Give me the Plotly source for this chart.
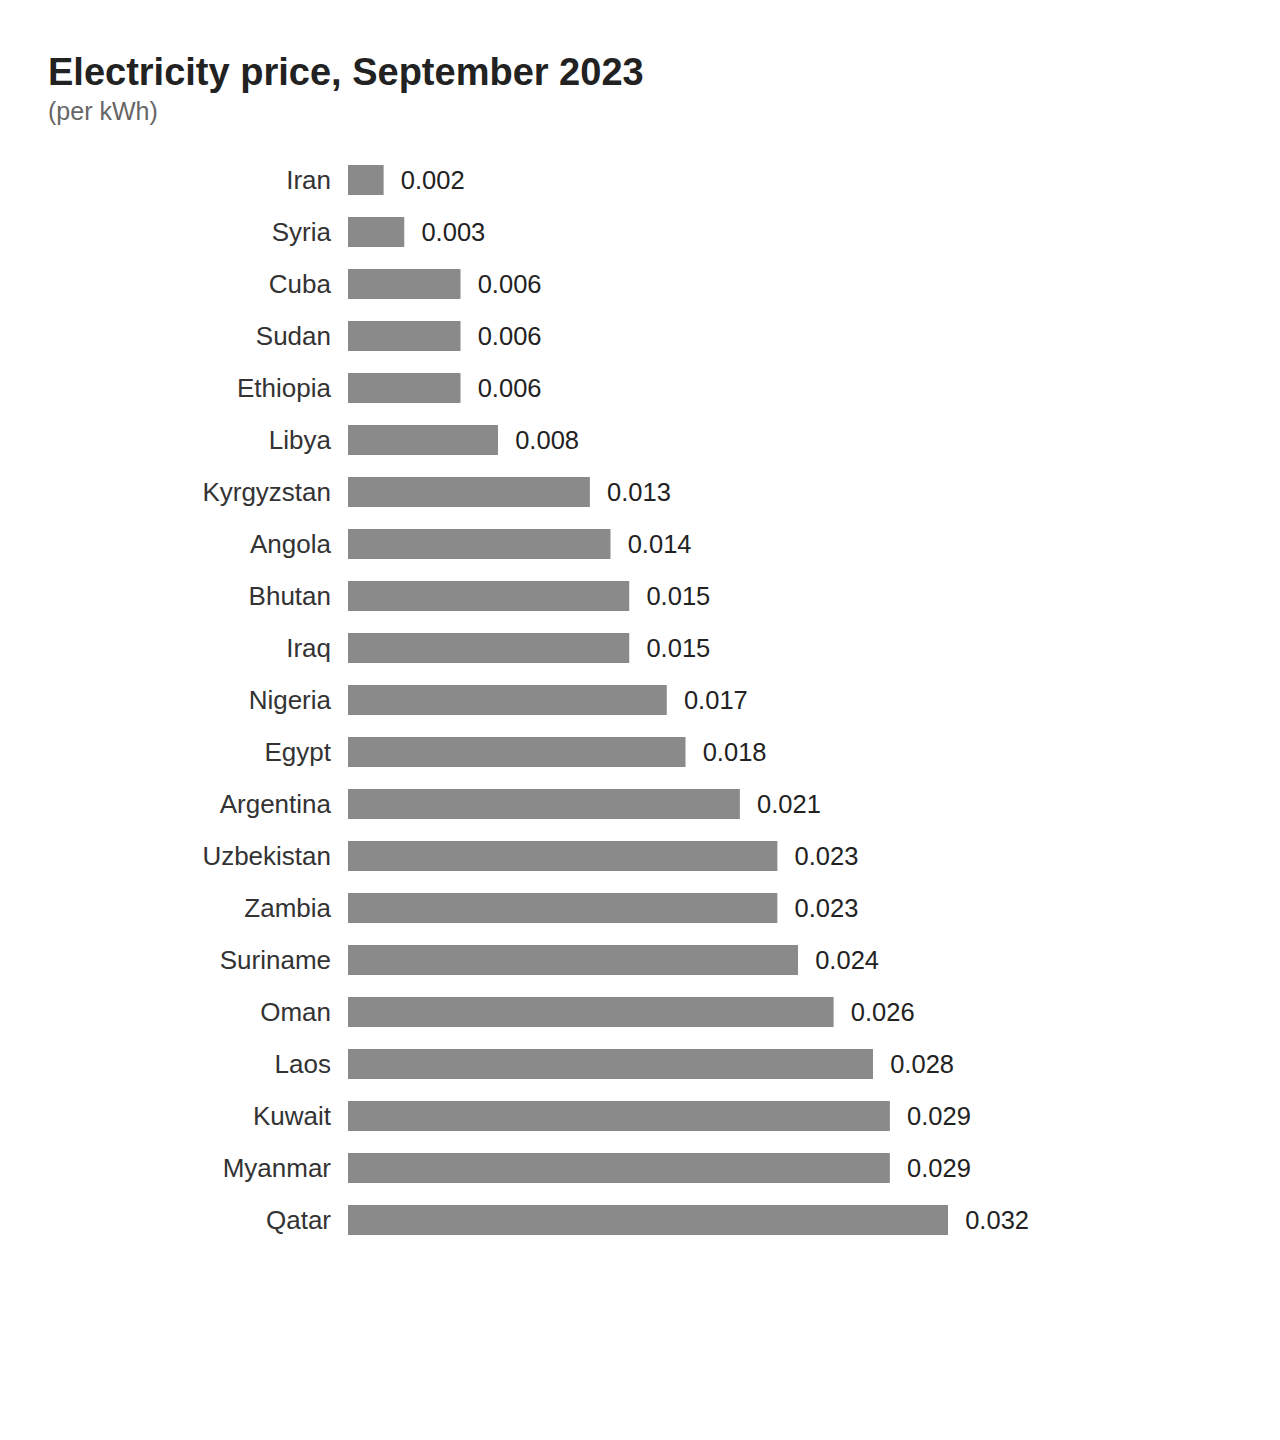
import plotly.graph_objects as go

# countries top to bottom, values in USD per kWh
countries = ['Iran', 'Syria', 'Cuba', 'Sudan', 'Ethiopia', 'Libya', 'Kyrgyzstan',
             'Angola', 'Bhutan', 'Iraq', 'Nigeria', 'Egypt', 'Argentina',
             'Uzbekistan', 'Zambia', 'Suriname', 'Oman', 'Laos', 'Kuwait',
             'Myanmar', 'Qatar']
prices = [0.0019, 0.003, 0.006, 0.006, 0.006, 0.008, 0.0129, 0.014, 0.015, 0.015,
          0.017, 0.018, 0.0209, 0.0229, 0.0229, 0.024, 0.0259, 0.028, 0.0289,
          0.0289, 0.032]
labels = ['0.002', '0.003', '0.006', '0.006', '0.006', '0.008', '0.013', '0.014',
          '0.015', '0.015', '0.017', '0.018', '0.021', '0.023', '0.023', '0.024',
          '0.026', '0.028', '0.029', '0.029', '0.032']

font = 'Liberation Sans, Arial, Helvetica, sans-serif'

# the page body adds 8px, so margins are 8px smaller than the reference positions
L, T, B = 340, 146, 202
PW, PH = 800, 1440 - T - B

fig = go.Figure(go.Bar(
    x=prices, y=countries, orientation='h',
    marker=dict(color='#8a8a8a', line=dict(width=0)),
    text=['  ' + t for t in labels], textposition='outside',
    textfont=dict(size=25.5, color='#222222', family=font),
    constraintext='none', cliponaxis=False,
))

fig.update_layout(
    width=1280, height=1440,
    margin=dict(l=L, r=1280 - L - PW, t=T, b=B),
    plot_bgcolor='white', paper_bgcolor='white',
    font=dict(family=font, color='#222222'),
    bargap=0.42,
    showlegend=False,
    xaxis=dict(range=[0, 0.032 * PW / 600], visible=False, fixedrange=True),
    yaxis=dict(autorange='reversed', showgrid=False, showline=False, zeroline=False,
               ticks='', ticklabelstandoff=16,
               tickfont=dict(size=26, color='#333333', family=font)),
)

fig.add_annotation(text='<b>Electricity price, September 2023</b>', xref='paper', yref='paper',
                   x=(38 - L) / PW, y=1 + (T - 64) / PH, xanchor='left', yanchor='middle',
                   showarrow=False, font=dict(size=38, color='#222222', family=font))
fig.add_annotation(text='(per kWh)', xref='paper', yref='paper',
                   x=(38 - L) / PW, y=1 + (T - 103) / PH, xanchor='left', yanchor='middle',
                   showarrow=False, font=dict(size=25, color='#666666', family=font))

fig.write_html('out.html')
